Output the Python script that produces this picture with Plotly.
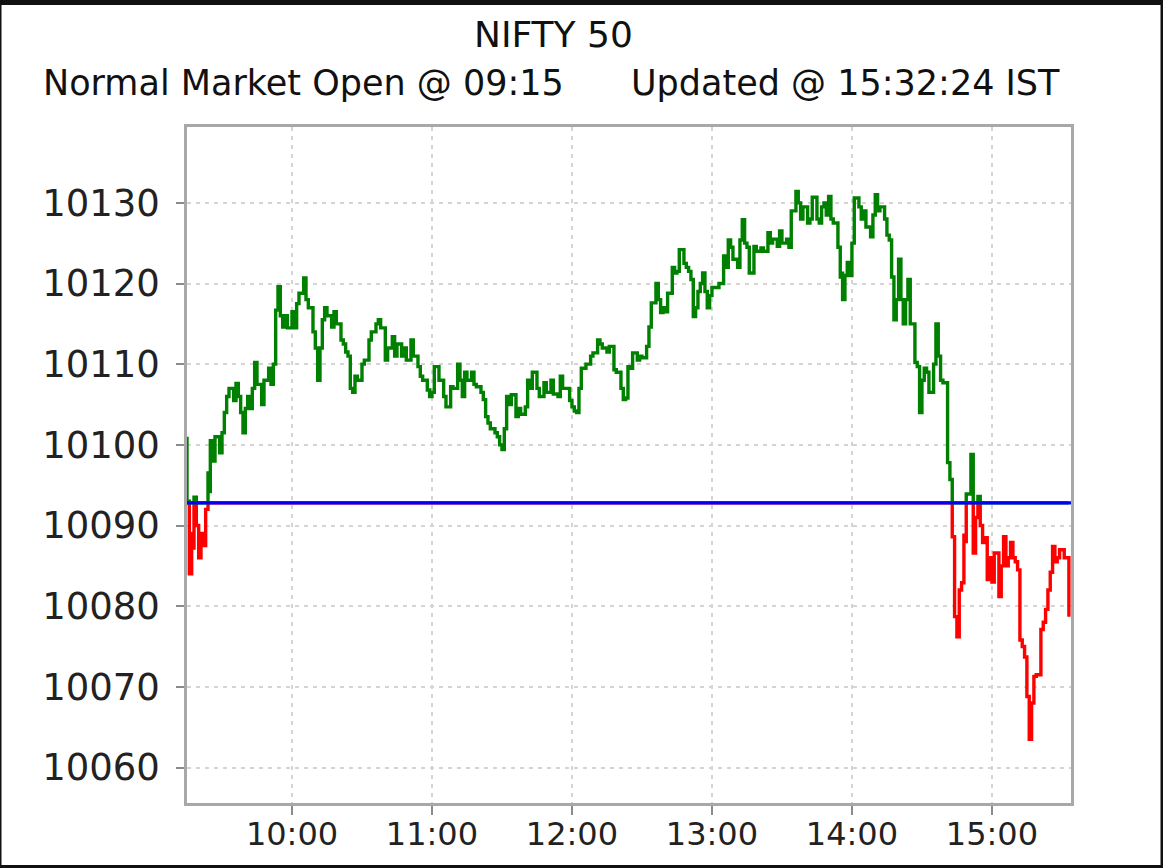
import numpy as np
import pandas as pd
import plotly.graph_objects as go

# ---- data ----
title_text = "NIFTY 50"
subtitle_left = "Normal Market Open @ 09:15"
subtitle_right = "Updated @ 15:32:24 IST"
trade_date = "2017-12-01"
session_open = "09:15:00"
session_end = "15:33:54"
prev_close = 10092.8

# minutes after 09:15 and index level
minutes = [
    0, 0, 1, 1, 2, 3, 3, 4, 5, 6,
    7, 8, 9, 9, 10, 10, 11, 12, 14, 15,
    16, 17, 18, 20, 21, 22, 23, 24, 25, 26,
    27, 28, 29, 30, 32, 33, 35, 36, 37, 38,
    39, 40, 41, 42, 43, 45, 46, 47, 48, 50,
    51, 52, 54, 55, 56, 57, 58, 59, 60, 62,
    63, 64, 66, 67, 68, 69, 70, 71, 72, 73,
    75, 76, 78, 79, 81, 82, 83, 85, 86, 88,
    89, 90, 92, 93, 94, 96, 96, 97, 99, 100,
    101, 103, 104, 105, 106, 108, 108, 110, 111, 113,
    114, 116, 117, 118, 119, 120, 122, 123, 124, 126,
    127, 128, 129, 130, 132, 133, 134, 135, 136, 137,
    138, 139, 141, 142, 143, 145, 146, 147, 148, 150,
    151, 153, 154, 156, 157, 159, 160, 161, 163, 164,
    165, 166, 167, 168, 169, 171, 173, 174, 176, 177,
    178, 180, 181, 183, 184, 186, 187, 188, 189, 190,
    191, 193, 194, 195, 197, 198, 199, 201, 202, 203,
    204, 205, 206, 208, 209, 210, 211, 213, 214, 215,
    216, 217, 218, 219, 220, 221, 222, 223, 224, 225,
    227, 228, 230, 231, 232, 233, 234, 236, 237, 238,
    239, 240, 241, 243, 244, 246, 247, 249, 250, 251,
    253, 254, 255, 257, 258, 259, 261, 262, 263, 264,
    266, 267, 268, 270, 271, 272, 273, 274, 275, 276,
    277, 279, 280, 281, 281, 282, 283, 284, 285, 286,
    288, 289, 290, 291, 293, 294, 295, 296, 297, 299,
    300, 301, 302, 303, 303, 304, 305, 306, 307, 308,
    309, 310, 310, 311, 312, 313, 314, 315, 316, 317,
    318, 320, 321, 322, 323, 324, 326, 326, 327, 328,
    329, 330, 331, 332, 333, 333, 334, 336, 337, 337,
    338, 339, 340, 341, 342, 343, 344, 345, 346, 348,
    349, 350, 351, 352, 353, 354, 355, 356, 357, 358,
    359, 360, 361, 362, 363, 364, 366, 367, 368, 369,
    370, 371, 372, 373, 374, 375, 376, 378,
]
prices = [
    10101, 10093, 10086, 10084, 10089, 10087, 10093.5, 10090, 10086, 10089,
    10087.5, 10092, 10093, 10096.5, 10094, 10100.5, 10098, 10101, 10099, 10101.5,
    10104, 10106, 10107, 10105.5, 10107.6, 10106, 10104, 10101.5, 10104.5, 10106,
    10104.5, 10107, 10110.2, 10107.5, 10105, 10108, 10109.5, 10107.5, 10110, 10116.7,
    10119.6, 10116, 10114.6, 10116, 10114.5, 10116.5, 10114.5, 10117.5, 10118.8, 10120.7,
    10118, 10117, 10114, 10112, 10108, 10112, 10115.5, 10117, 10116, 10114.6,
    10116.5, 10115, 10113, 10112.5, 10111.5, 10111, 10107, 10106.5, 10108.5, 10108,
    10110, 10110.5, 10113, 10114, 10115, 10115.5, 10114.5, 10110.5, 10112, 10113.4,
    10111, 10112.5, 10111, 10112, 10110.5, 10112, 10113, 10111, 10109.7, 10108.5,
    10108, 10106.8, 10106, 10106.5, 10109.7, 10108.5, 10108, 10106, 10104.7, 10107.2,
    10107, 10110, 10108, 10106, 10109, 10108, 10109, 10107.5, 10107.2, 10106.5,
    10105.6, 10103.5, 10102.7, 10102, 10101.5, 10101, 10100, 10099.4, 10102, 10106,
    10105, 10106.2, 10103.5, 10104.5, 10103.8, 10104.7, 10108, 10107, 10109, 10107,
    10106, 10107.7, 10106.5, 10108, 10106.3, 10106, 10108.5, 10107, 10107, 10105.5,
    10104.7, 10104.2, 10104, 10107, 10109.5, 10110, 10111, 10111.4, 10113, 10112.5,
    10112, 10111.5, 10112.2, 10109.3, 10109, 10107, 10105.6, 10105.8, 10109.7, 10109.5,
    10111.4, 10110.5, 10111, 10110.8, 10112.2, 10114.6, 10117.6, 10120, 10118, 10116.4,
    10117, 10116.5, 10118.8, 10122, 10121.3, 10121.5, 10124.2, 10122.5, 10122, 10121.5,
    10120.5, 10115.9, 10117, 10119, 10120, 10121.3, 10119, 10117, 10118.5, 10119.5,
    10119.5, 10120, 10123.4, 10122, 10125.4, 10124.5, 10123, 10122, 10125.4, 10127.9,
    10125, 10124.5, 10121.3, 10124.6, 10124, 10124.4, 10124, 10126.3, 10125, 10125.5,
    10124.6, 10126.5, 10125, 10125.5, 10124.5, 10129, 10131.4, 10130, 10128, 10129.5,
    10127.5, 10128, 10130.7, 10128, 10127.5, 10129.5, 10130, 10128.5, 10130.8, 10128,
    10127.5, 10124.5, 10120.8, 10121.5, 10118, 10121, 10122.6, 10121, 10125, 10130.6,
    10129.5, 10128, 10129, 10127, 10125.8, 10128.5, 10131, 10129, 10129.5, 10128,
    10126, 10125.4, 10120.8, 10118.4, 10115.5, 10118, 10123, 10118, 10115, 10118,
    10120.5, 10117, 10115, 10115, 10110.2, 10109.7, 10104, 10108, 10109.5, 10109,
    10106.5, 10110, 10115, 10111, 10108, 10107.7, 10099.8, 10097.8, 10095.7, 10088.6,
    10078.7, 10076.2, 10082, 10082.9, 10089, 10088, 10093.9, 10098.8, 10091, 10086.6,
    10091, 10093.6, 10090, 10087.9, 10088.5, 10083.3, 10086, 10083, 10086.6, 10081.2,
    10085, 10088.6, 10085, 10086, 10087.9, 10086, 10085.5, 10084.5, 10075.8, 10075,
    10073.7, 10068.8, 10063.5, 10068, 10071.3, 10071.5, 10077.1, 10078, 10079.6, 10082,
    10084.2, 10087.4, 10085.5, 10086, 10087, 10087, 10086, 10078.7,
]
hour_ticks = ["10:00", "11:00", "12:00", "13:00", "14:00", "15:00"]
price_ticks = [10060, 10070, 10080, 10090, 10100, 10110, 10120, 10130]
y_range = [10055.6, 10139.4]

# ---- derived ----
base = pd.Timestamp(f"{trade_date} {session_open}")
times = base + pd.to_timedelta(minutes, unit="m")
p = np.array(prices, dtype=float)
above = np.maximum(p, prev_close)
below = np.minimum(p, prev_close)
tick_vals = [pd.Timestamp(f"{trade_date} {h}") for h in hour_ticks]

fig = go.Figure()
fig.add_trace(go.Scatter(x=times, y=below, mode="lines",
                         line=dict(color="#ff0000", width=3.4, shape="hv"),
                         hoverinfo="skip", showlegend=False))
fig.add_trace(go.Scatter(x=times, y=above, mode="lines",
                         line=dict(color="#008000", width=3.4, shape="hv"),
                         hoverinfo="skip", showlegend=False))

# previous close reference line
fig.add_shape(type="line", xref="paper", x0=0, x1=1, yref="y",
              y0=prev_close, y1=prev_close,
              line=dict(color="#0000ff", width=3.4), layer="above")

# dark frame around the picture
L, R, T, B = 187, 92, 127, 65
W, H = 1163, 868
pw, ph = W - L - R, H - T - B
def px(x):
    return (x - L) / pw
def py(y):
    return (H - B - y) / ph
for x0, x1, y0, y1 in [(0, W, 0, 5), (0, W, 865, H), (0, 1.5, 0, H), (1160.5, W, 0, H)]:
    fig.add_shape(type="rect", xref="paper", yref="paper",
                  x0=px(x0), x1=px(x1), y0=py(y1), y1=py(y0),
                  fillcolor="#111111", line=dict(width=0), layer="above")

font_family = "DejaVu Sans"
fig.add_annotation(text=title_text, xref="paper", yref="paper",
                   x=px(553), y=py(35), xanchor="center", yanchor="middle",
                   showarrow=False, font=dict(family=font_family, size=36, color="#111111"))
fig.add_annotation(text=subtitle_left, xref="paper", yref="paper",
                   x=px(41), y=py(83), xanchor="left", yanchor="middle",
                   showarrow=False, font=dict(family=font_family, size=35, color="#111111"))
fig.add_annotation(text=subtitle_right, xref="paper", yref="paper",
                   x=px(1062), y=py(83), xanchor="right", yanchor="middle",
                   showarrow=False, font=dict(family=font_family, size=35, color="#111111"))

fig.update_layout(
    width=W, height=H,
    margin=dict(l=L, r=R, t=T, b=B, autoexpand=False),
    paper_bgcolor="white", plot_bgcolor="white",
    showlegend=False,
)
fig.update_xaxes(
    type="date", automargin=False,
    range=[f"{trade_date} {session_open}", f"{trade_date} {session_end}"],
    tickvals=tick_vals, ticktext=hour_ticks,
    tickfont=dict(family=font_family, size=32, color="#222222"),
    ticks="outside", ticklen=9, tickwidth=2, tickcolor="#8a8a8a",
    showgrid=True, gridcolor="#d4d4d4", gridwidth=1.5, griddash="4px,5px",
    showline=True, linecolor="#a8a8a8", linewidth=2.5, mirror=True,
    zeroline=False, ticklabelstandoff=-8,
)
fig.update_yaxes(
    automargin=False,
    range=y_range,
    tickvals=price_ticks, ticktext=[str(v) for v in price_ticks],
    tickfont=dict(family=font_family, size=37, color="#222222"),
    ticks="outside", ticklen=8, tickwidth=2, tickcolor="#8a8a8a",
    showgrid=True, gridcolor="#d4d4d4", gridwidth=1.5, griddash="4px,5px",
    showline=True, linecolor="#a8a8a8", linewidth=2.5, mirror=True,
    zeroline=False, ticklabelstandoff=9,
)

fig.write_html(
    "out.html",
    config={"displayModeBar": False},
    post_script="document.body.style.margin='0';document.body.style.overflow='hidden';",
)
